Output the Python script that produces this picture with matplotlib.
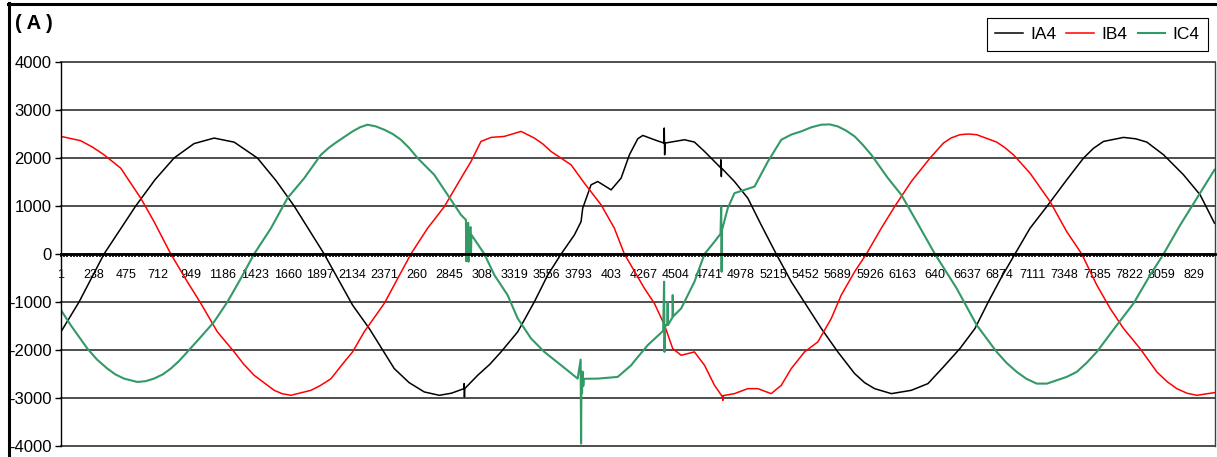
import numpy as np
import matplotlib
matplotlib.use("Agg")
import matplotlib.pyplot as plt
from matplotlib import font_manager
from matplotlib.lines import Line2D
from matplotlib.ticker import FixedLocator

# (sample index, current in A)
ia4_pts = [(1, -1620), (133, -1000), (316, 0), (548, 1000), (690, 1550), (829, 2000), (975, 2300),
           (1122, 2415), (1269, 2330), (1439, 2000), (1575, 1530), (1708, 1000), (1928, 0),
           (2136, -1065), (2258, -1552), (2441, -2387), (2550, -2680), (2661, -2874), (2771, -2944),
           (2860, -2900), (2951, -2805), (2953, -2700), (2955, -2979), (2957, -2805), (3052, -2527),
           (3140, -2300), (3223, -2040), (3345, -1622), (3467, -996), (3565, -438), (3663, 0),
           (3760, 397), (3809, 675), (3821, 954), (3882, 1441), (3931, 1510), (4029, 1336),
           (4102, 1580), (4163, 2067), (4224, 2400), (4261, 2470), (4346, 2380), (4416, 2311),
           (4418, 2624), (4421, 2067), (4424, 2311), (4566, 2380), (4639, 2332), (4713, 2136),
           (4830, 1800), (4833, 1963), (4836, 1614), (4838, 1789), (4932, 1510), (5030, 1163),
           (5128, 605), (5238, 0), (5348, -578), (5458, -1065), (5568, -1552), (5689, -2040),
           (5812, -2491), (5885, -2680), (5958, -2805), (6081, -2909), (6227, -2840), (6349, -2700),
           (6462, -2353), (6583, -1970), (6693, -1552), (6791, -996), (6889, -474), (6986, 0),
           (7096, 536), (7219, 988), (7365, 1545), (7488, 1998), (7560, 2200), (7634, 2345),
           (7781, 2429), (7870, 2400), (7951, 2332), (8074, 2067), (8220, 1650), (8342, 1232),
           (8447, 641)]

ib4_pts = [(1, 2450), (145, 2360), (230, 2230), (316, 2067), (438, 1789), (585, 1163), (682, 675),
           (805, 0), (926, -578), (1025, -1030), (1146, -1622), (1269, -2040), (1340, -2300),
           (1415, -2527), (1562, -2840), (1620, -2910), (1684, -2944), (1831, -2840), (1900, -2740),
           (1977, -2600), (2075, -2249), (2136, -2040), (2221, -1622), (2368, -1030), (2563, 0),
           (2685, 536), (2808, 988), (2930, 1580), (3003, 1927), (3076, 2345), (3150, 2429),
           (3247, 2450), (3370, 2554), (3467, 2415), (3530, 2290), (3589, 2136), (3736, 1858),
           (3833, 1476), (3956, 1023), (4053, 536), (4126, 0), (4273, -716), (4346, -1030),
           (4420, -1482), (4480, -1970), (4542, -2110), (4639, -2040), (4713, -2318), (4786, -2736),
           (4845, -2979), (4847, -3050), (4849, -2950), (4932, -2909), (5030, -2805), (5103, -2805),
           (5201, -2909), (5275, -2736), (5348, -2387), (5445, -2040), (5543, -1831), (5641, -1343),
           (5714, -856), (5812, -369), (5898, 0), (6007, 536), (6105, 988), (6227, 1510),
           (6266, 1650), (6364, 1998), (6462, 2311), (6520, 2420), (6583, 2485), (6645, 2500),
           (6706, 2485), (6852, 2332), (6910, 2220), (6975, 2067), (7096, 1685), (7243, 1092),
           (7365, 466), (7475, 0), (7585, -647), (7683, -1134), (7781, -1552), (7902, -1970),
           (8025, -2457), (8100, -2660), (8171, -2805), (8245, -2900), (8318, -2944), (8447, -2888)]

ic4_pts = [(1, -1169), (72, -1482), (194, -1970), (265, -2200), (340, -2387), (400, -2510),
           (463, -2596), (560, -2666), (620, -2650), (682, -2596), (745, -2510), (805, -2387),
           (865, -2230), (926, -2040), (1025, -1727), (1122, -1413), (1220, -996), (1318, -508),
           (1415, 0), (1538, 536), (1659, 1163), (1782, 1580), (1904, 2067), (1965, 2220),
           (2026, 2345), (2136, 2554), (2190, 2640), (2245, 2694), (2305, 2660), (2368, 2589),
           (2430, 2500), (2490, 2380), (2550, 2210), (2612, 1998), (2734, 1650), (2832, 1232),
           (2930, 814), (2966, 710), (2968, -150), (2971, 600), (2983, 650), (2985, -160),
           (2988, 520), (3001, 560), (3003, 20), (3006, 400), (3101, 0), (3174, -438), (3271, -856),
           (3345, -1343), (3443, -1761), (3540, -2040), (3663, -2318), (3784, -2596), (3806, -2200),
           (3809, -3950), (3812, -2550), (3816, -2900), (3820, -2450), (3825, -2750), (3830, -2600),
           (3931, -2596), (4077, -2561), (4176, -2318), (4200, -2230), (4297, -1900), (4410, -1600),
           (4417, -578), (4420, -2040), (4423, -1520), (4440, -1450), (4443, -1000), (4446, -1480),
           (4478, -1320), (4480, -856), (4483, -1300), (4542, -1134), (4639, -578), (4713, 0),
           (4786, 257), (4830, 420), (4835, 988), (4838, -369), (4841, 500), (4883, 954),
           (4932, 1267), (5006, 1336), (5079, 1405), (5177, 1927), (5275, 2380), (5350, 2490),
           (5421, 2554), (5495, 2640), (5568, 2694), (5630, 2700), (5689, 2658), (5750, 2570),
           (5812, 2450), (5870, 2280), (5934, 2067), (6056, 1580), (6154, 1232), (6252, 745),
           (6400, 0), (6559, -716), (6706, -1482), (6852, -2040), (6925, -2270), (6999, -2457),
           (7070, -2600), (7145, -2700), (7220, -2700), (7292, -2631), (7365, -2560), (7438, -2457),
           (7510, -2270), (7585, -2040), (7732, -1482), (7854, -1030), (7976, -438), (8074, 0),
           (8196, 605), (8318, 1163), (8447, 1754)]

n_samples = 8447
label_step = 237
x_labels = ['1', '238', '475', '712', '949', '1186', '1423', '1660', '1897', '2134', '2371', '260',
            '2845', '308', '3319', '3556', '3793', '403', '4267', '4504', '4741', '4978', '5215',
            '5452', '5689', '5926', '6163', '640', '6637', '6874', '7111', '7348', '7585', '7822',
            '8059', '829']
y_ticks = [-4000, -3000, -2000, -1000, 0, 1000, 2000, 3000, 4000]


def pick_font(names):
    for name in names:
        try:
            font_manager.findfont(font_manager.FontProperties(family=name), fallback_to_default=False)
            return name
        except ValueError:
            pass
    return 'DejaVu Sans'


font = pick_font(['Liberation Sans Narrow', 'Liberation Sans', 'Arial'])
plt.rcParams['font.family'] = [font, 'DejaVu Sans']

W, H = 1217, 457
fig = plt.figure(figsize=(W / 100, H / 100), dpi=100)
ax = fig.add_axes([61 / W, 1 - 446 / H, (1214.5 - 61) / W, (446 - 62) / H])

for pts, color, lw, name in [(ia4_pts, 'black', 1.1, 'IA4'),
                             (ib4_pts, '#ff0000', 1.1, 'IB4'),
                             (ic4_pts, '#339966', 1.5, 'IC4')]:
    idx, val = zip(*pts)
    ax.plot(idx, val, color=color, lw=lw, label=name)

ax.set_xlim(1, n_samples)
ax.set_ylim(-4000, 4000)

# category axis sits on the zero line
ax.spines['bottom'].set_position(('data', 0))
ax.spines['bottom'].set_linewidth(2.0)
ax.spines['top'].set_visible(False)
ax.spines['left'].set_linewidth(1.0)
ax.spines['right'].set_color('#404040')
ax.spines['right'].set_linewidth(1.0)

ax.set_xticks(np.arange(1, n_samples, label_step))
ax.set_xticklabels(x_labels)
ax.xaxis.set_minor_locator(FixedLocator(np.arange(1, n_samples, label_step / 10)))
ax.tick_params(axis='x', which='both', direction='out', length=2.5, width=1.2, pad=8,
               labelsize=9, color='black')

ax.set_yticks(y_ticks)
ax.set_yticklabels([str(v) for v in y_ticks])
ax.tick_params(axis='y', direction='out', length=4.3, width=1.0, pad=2.5, labelsize=12)

ax.yaxis.grid(True, color='#303030', lw=1.2)
for gl in ax.get_ygridlines():
    gl.set_clip_on(False)
ax.set_axisbelow(True)

fig.text(15 / W, 1 - 14 / H, '( A )', fontsize=14.5, fontweight='bold', va='top', ha='left')

leg = fig.legend(loc='upper right', bbox_to_anchor=(1208 / W, 1 - 18 / H), ncol=3,
                 frameon=True, fancybox=False, edgecolor='black', framealpha=1,
                 borderpad=0.5, handlelength=1.6, handletextpad=0.4, columnspacing=0.6,
                 borderaxespad=0, fontsize=12.5)
leg.get_frame().set_linewidth(0.8)

# outer frame (top and left edges)
fig.add_artist(Line2D([8.5 / W, 8.5 / W], [0, 1 - 3 / H], transform=fig.transFigure,
                      color='black', lw=2.2))
fig.add_artist(Line2D([8 / W, 1], [1 - 3.5 / H, 1 - 3.5 / H], transform=fig.transFigure,
                      color='black', lw=2.2))

fig.savefig('out.png', dpi=100, facecolor='white')
